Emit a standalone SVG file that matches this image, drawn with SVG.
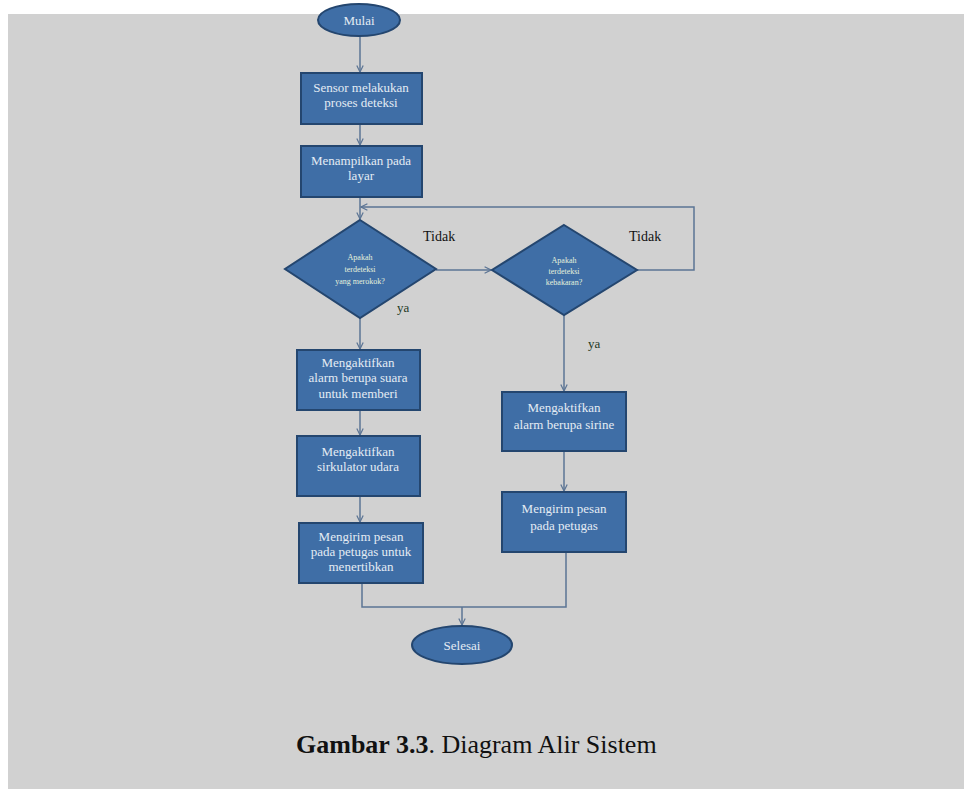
<svg xmlns="http://www.w3.org/2000/svg" width="964" height="789" viewBox="0 0 964 789">
<defs>
<marker id="arr" viewBox="0 0 10 10" refX="9" refY="5" markerWidth="8" markerHeight="8" orient="auto" markerUnits="userSpaceOnUse">
<path d="M1,1 L9,5 L1,9" fill="none" stroke="#5b7494" stroke-width="1.5"/>
</marker>
</defs>
<style>
.bg{fill:#d1d1d1}
.box{fill:#3f6ea6;stroke:#24466f;stroke-width:2}
text{font-family:'Liberation Serif','Times New Roman',Tinos,'DejaVu Serif',serif}
.t{font-size:13px;fill:#e4ecf4;text-anchor:middle}
.dt{font-size:8px;fill:#e6f2dc;text-anchor:middle}
.lbl{font-size:14px;fill:#111}
.ya{font-size:13px;fill:#1f3a1f}
.c{fill:none;stroke:#5b7494;stroke-width:1.5}
.cap{font-size:26px;fill:#111}
</style>
<rect x="0" y="0" width="964" height="789" fill="#ffffff"/>
<rect class="bg" x="8" y="14" width="956" height="775"/>

<g id="connectors">
<line class="c" x1="360" y1="36" x2="360" y2="72" marker-end="url(#arr)"/>
<line class="c" x1="360" y1="124" x2="360" y2="145" marker-end="url(#arr)"/>
<line class="c" x1="360" y1="197" x2="360" y2="219" marker-end="url(#arr)"/>
<polyline class="c" points="637,270 694,270 694,207 361,207" marker-end="url(#arr)"/>
<line class="c" x1="436" y1="270" x2="491" y2="270" marker-end="url(#arr)"/>
<line class="c" x1="360" y1="318" x2="360" y2="349" marker-end="url(#arr)"/>
<line class="c" x1="360" y1="410" x2="360" y2="435" marker-end="url(#arr)"/>
<line class="c" x1="360" y1="496" x2="360" y2="522" marker-end="url(#arr)"/>
<line class="c" x1="564" y1="315" x2="564" y2="391" marker-end="url(#arr)"/>
<line class="c" x1="564" y1="451" x2="564" y2="491" marker-end="url(#arr)"/>
<polyline class="c" points="362,583 362,607 566,607 566,552"/>
<line class="c" x1="462" y1="607" x2="462" y2="625" marker-end="url(#arr)"/>
</g>

<g id="mulai">
<ellipse class="box" cx="359" cy="20" rx="41" ry="16"/>
<text class="t" x="359" y="24.5" font-family="Liberation Serif, serif">Mulai</text>
</g>

<g id="sensor">
<rect class="box" x="301" y="73" width="121" height="51"/>
<text class="t" x="361" y="92">Sensor melakukan</text>
<text class="t" x="361" y="107">proses deteksi</text>
</g>

<g id="tampil">
<rect class="box" x="301" y="146" width="121" height="51"/>
<text class="t" x="361" y="165">Menampilkan pada</text>
<text class="t" x="361" y="180">layar</text>
</g>

<g id="cek-rokok">
<polygon class="box" points="360,220 436,269 360,318 285,269"/>
<text class="dt" x="360" y="260">Apakah</text>
<text class="dt" x="360" y="272">terdeteksi</text>
<text class="dt" x="360" y="284">yang merokok?</text>
</g>

<g id="cek-api">
<polygon class="box" points="564,225 637,270 564,315 492,270"/>
<text class="dt" x="564" y="263">Apakah</text>
<text class="dt" x="564" y="274">terdeteksi</text>
<text class="dt" x="564" y="285">kebakaran?</text>
</g>

<text class="lbl" x="423" y="241">Tidak</text>
<text class="lbl" x="629" y="241">Tidak</text>
<text class="ya" x="397" y="312">ya</text>
<text class="ya" x="588" y="348">ya</text>

<g id="alarm-suara">
<rect class="box" x="297" y="350" width="123" height="60"/>
<text class="t" x="358" y="367">Mengaktifkan</text>
<text class="t" x="358" y="382">alarm berupa suara</text>
<text class="t" x="358" y="398">untuk memberi</text>
</g>

<g id="sirkulator">
<rect class="box" x="297" y="436" width="123" height="60"/>
<text class="t" x="358" y="456">Mengaktifkan</text>
<text class="t" x="358" y="471">sirkulator udara</text>
</g>

<g id="pesan-tertib">
<rect class="box" x="299" y="523" width="124" height="60"/>
<text class="t" x="361" y="541">Mengirim pesan</text>
<text class="t" x="361" y="556">pada petugas untuk</text>
<text class="t" x="361" y="571">menertibkan</text>
</g>

<g id="alarm-sirine">
<rect class="box" x="502" y="392" width="124" height="59"/>
<text class="t" x="564" y="412">Mengaktifkan</text>
<text class="t" x="564" y="429">alarm berupa sirine</text>
</g>

<g id="pesan-petugas">
<rect class="box" x="502" y="492" width="124" height="60"/>
<text class="t" x="564" y="513">Mengirim pesan</text>
<text class="t" x="564" y="530">pada petugas</text>
</g>

<g id="selesai">
<ellipse class="box" cx="462" cy="645" rx="50" ry="19"/>
<text class="t" x="462" y="649.5">Selesai</text>
</g>

<text class="cap" x="296" y="753"><tspan font-weight="bold">Gambar 3.3</tspan>. Diagram Alir Sistem</text>
</svg>
